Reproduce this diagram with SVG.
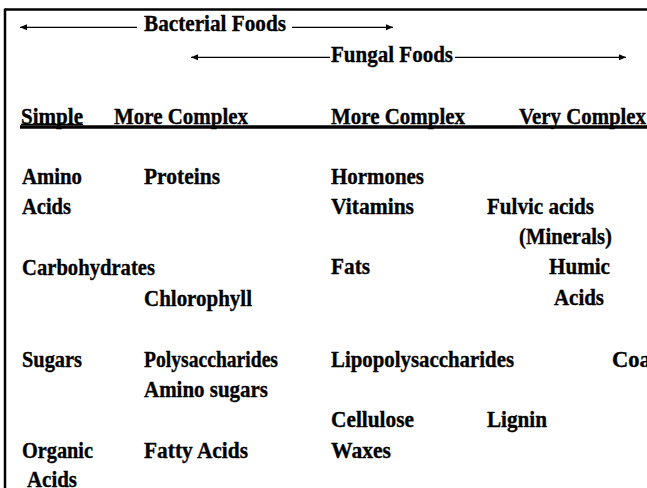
<svg xmlns="http://www.w3.org/2000/svg" width="647" height="488" viewBox="0 0 647 488">
<defs>
<style>
text{font-family:"Liberation Serif","Times New Roman",serif;font-weight:bold;font-size:23.5px;fill:#000;stroke:#000;stroke-width:0.35}
.ln{stroke:#000;stroke-width:1.3;fill:none}
</style>
<marker id="ah" markerUnits="userSpaceOnUse" markerWidth="8" markerHeight="8" refX="7" refY="4" orient="auto">
<path d="M0,1 L7,4 L0,7 Z" fill="#000"/>
</marker>
</defs>
<rect width="647" height="488" fill="#fff"/>
<g id="frame">
<line x1="5" y1="9.5" x2="647" y2="9.5" stroke="#000" stroke-width="2.5"/>
<line x1="5" y1="8.5" x2="5" y2="488" stroke="#000" stroke-width="2.5"/>
<line x1="20" y1="127" x2="647" y2="127" stroke="#000" stroke-width="3.5"/>
</g>
<g id="connectors">
<line class="ln" x1="137" y1="27.3" x2="20" y2="27.3" marker-end="url(#ah)"/>
<line class="ln" x1="292" y1="27.3" x2="393" y2="27.3" marker-end="url(#ah)"/>
<line class="ln" x1="330" y1="57.3" x2="191" y2="57.3" marker-end="url(#ah)"/>
<line class="ln" x1="455" y1="57.3" x2="626" y2="57.3" marker-end="url(#ah)"/>
</g>
<g id="bacterial-foods"><text x="144" y="31" textLength="142" lengthAdjust="spacingAndGlyphs">Bacterial Foods</text></g>
<g id="fungal-foods"><text x="331" y="61.5" textLength="122" lengthAdjust="spacingAndGlyphs">Fungal Foods</text></g>
<g id="h-simple"><text x="21" y="124" textLength="62" lengthAdjust="spacingAndGlyphs">Simple</text>
<line x1="21" y1="124.5" x2="83" y2="124.5" stroke="#000" stroke-width="1.5"/></g>
<g id="h-more1"><text x="114" y="124" textLength="134" lengthAdjust="spacingAndGlyphs">More Complex</text></g>
<g id="h-more2"><text x="331" y="124" textLength="134" lengthAdjust="spacingAndGlyphs">More Complex</text></g>
<g id="h-very"><text x="519" y="124" textLength="127" lengthAdjust="spacingAndGlyphs">Very Complex</text></g>
<g id="amino"><text x="22" y="184" textLength="60" lengthAdjust="spacingAndGlyphs">Amino</text><text x="22" y="214" textLength="49" lengthAdjust="spacingAndGlyphs">Acids</text></g>
<g id="proteins"><text x="144" y="184" textLength="76" lengthAdjust="spacingAndGlyphs">Proteins</text></g>
<g id="hormones"><text x="331" y="183.5" textLength="93" lengthAdjust="spacingAndGlyphs">Hormones</text></g>
<g id="vitamins"><text x="331" y="213.5" textLength="83" lengthAdjust="spacingAndGlyphs">Vitamins</text></g>
<g id="fulvic"><text x="487" y="213.5" textLength="107" lengthAdjust="spacingAndGlyphs">Fulvic acids</text></g>
<g id="minerals"><text x="519" y="244" textLength="93" lengthAdjust="spacingAndGlyphs">(Minerals)</text></g>
<g id="carbohydrates"><text x="22" y="275" textLength="133" lengthAdjust="spacingAndGlyphs">Carbohydrates</text></g>
<g id="fats"><text x="331" y="274" textLength="39" lengthAdjust="spacingAndGlyphs">Fats</text></g>
<g id="humic"><text x="549" y="274" textLength="61" lengthAdjust="spacingAndGlyphs">Humic</text><text x="554" y="305" textLength="50" lengthAdjust="spacingAndGlyphs">Acids</text></g>
<g id="chlorophyll"><text x="144" y="306" textLength="108" lengthAdjust="spacingAndGlyphs">Chlorophyll</text></g>
<g id="sugars"><text x="22" y="367" textLength="60" lengthAdjust="spacingAndGlyphs">Sugars</text></g>
<g id="polysaccharides"><text x="144" y="367" textLength="134" lengthAdjust="spacingAndGlyphs">Polysaccharides</text></g>
<g id="amino-sugars"><text x="144" y="397" textLength="124" lengthAdjust="spacingAndGlyphs">Amino sugars</text></g>
<g id="lipopolysaccharides"><text x="331" y="367" textLength="183" lengthAdjust="spacingAndGlyphs">Lipopolysaccharides</text></g>
<g id="coal"><text x="612" y="367" textLength="45" lengthAdjust="spacingAndGlyphs">Coal</text></g>
<g id="cellulose"><text x="331" y="427" textLength="83" lengthAdjust="spacingAndGlyphs">Cellulose</text></g>
<g id="lignin"><text x="487" y="427" textLength="60" lengthAdjust="spacingAndGlyphs">Lignin</text></g>
<g id="organic"><text x="22" y="458" textLength="71" lengthAdjust="spacingAndGlyphs">Organic</text><text x="27" y="487" textLength="50" lengthAdjust="spacingAndGlyphs">Acids</text></g>
<g id="fatty-acids"><text x="144" y="458" textLength="104" lengthAdjust="spacingAndGlyphs">Fatty Acids</text></g>
<g id="waxes"><text x="331" y="458" textLength="60" lengthAdjust="spacingAndGlyphs">Waxes</text></g>
</svg>
